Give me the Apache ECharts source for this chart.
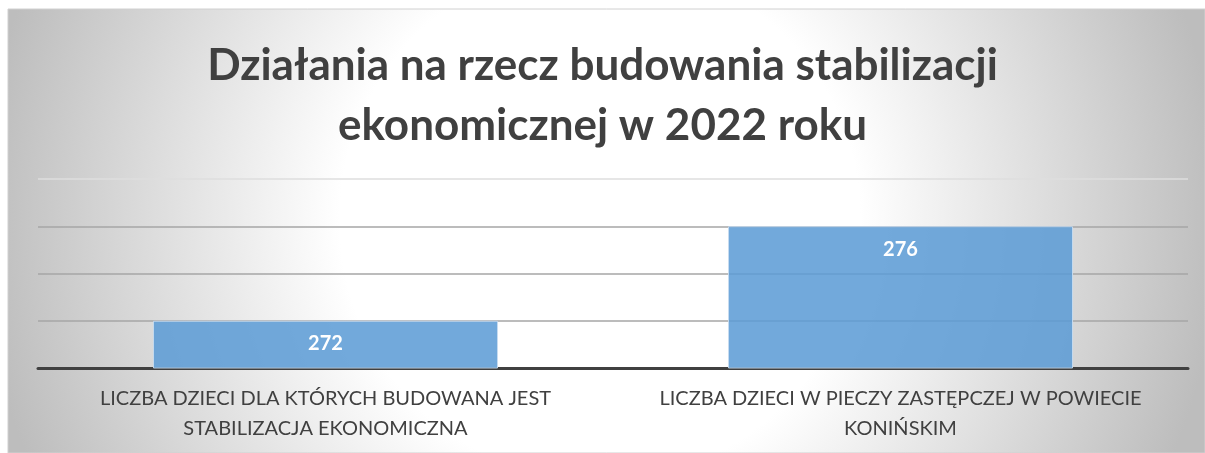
<!DOCTYPE html>
<html>
<head>
<meta charset="utf-8">
<script src="https://cdn.jsdelivr.net/npm/echarts@6/dist/echarts.min.js"></script>
<style>
  html, body { margin: 0; padding: 0; background: #fff; }
  #main { width: 1205px; height: 453px; }
</style>
</head>
<body>
<div id="main"></div>
<script>
var titleText = 'Działania na rzecz budowania stabilizacji\nekonomicznej w 2022 roku'
var categories = [
  'LICZBA DZIECI DLA KTÓRYCH BUDOWANA JEST\nSTABILIZACJA EKONOMICZNA',
  'LICZBA DZIECI W PIECZY ZASTĘPCZEJ W POWIECIE\nKONIŃSKIM'
]
var values = [272, 276]
var yMin = 270
var yMax = 278
var yStep = 2

var chart = echarts.init(document.getElementById('main'))
var option = {
  backgroundColor: '#fff',
  textStyle: { fontFamily: 'Lato' },
  graphic: [
    {
      type: 'rect',
      z: -10,
      silent: true,
      shape: { x: 8, y: 9, width: 1197, height: 444 },
      style: {
        fill: {
          type: 'radial',
          x: 600, y: 220, r: 620,
          global: true,
          colorStops: [
            { offset: 0, color: '#ffffff' },
            { offset: 0.42, color: '#ffffff' },
            { offset: 1, color: '#bdbdbd' }
          ]
        },
        stroke: '#d0d0d0',
        lineWidth: 1
      }
    }
  ],
  title: {
    text: titleText,
    left: 'center',
    top: 31,
    textStyle: {
      fontFamily: 'Lato',
      fontSize: 44,
      fontWeight: 'bold',
      color: '#404040',
      lineHeight: 60
    }
  },
  grid: {
    left: 38,
    right: 17,
    top: 179,
    bottom: 85,
    containLabel: false
  },
  xAxis: {
    type: 'category',
    data: categories,
    axisTick: { show: false },
    axisLine: { lineStyle: { color: '#404040', width: 3 } },
    axisLabel: {
      color: '#404040',
      fontSize: 20,
      lineHeight: 30,
      margin: 16,
      interval: 0
    }
  },
  yAxis: {
    type: 'value',
    min: yMin,
    max: yMax,
    interval: yStep,
    axisLabel: { show: false },
    axisLine: { show: false },
    axisTick: { show: false },
    splitLine: {
      lineStyle: {
        color: ['#a6a6a6', '#a6a6a6', '#a6a6a6', '#a6a6a6', '#dedede'],
        width: 1.5
      }
    }
  },
  series: [
    {
      type: 'bar',
      data: values,
      barCategoryGap: '40%',
      itemStyle: {
        color: 'rgba(91,155,213,0.86)',
        borderColor: 'rgba(200,220,240,0.9)',
        borderWidth: 1
      },
      label: {
        show: true,
        position: 'insideTop',
        distance: 13,
        color: '#fff',
        fontWeight: 'bold',
        fontSize: 20,
        fontFamily: 'Lato'
      }
    }
  ]
}
chart.setOption(option)
</script>
</body>
</html>
